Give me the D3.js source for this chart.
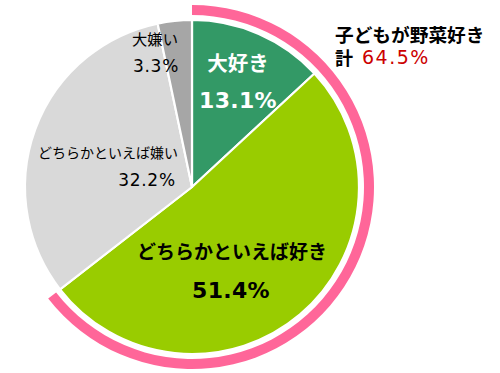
<!DOCTYPE html>
<html><head><meta charset="utf-8">
<script src="https://cdn.jsdelivr.net/npm/d3@7"></script>
<style>
html,body{margin:0;padding:0;background:#fff;}
text{font-family:"Noto Sans CJK JP","Noto Sans",sans-serif;}
text.num, tspan.num{font-family:"DejaVu Sans",sans-serif;}
</style></head>
<body><svg id="c" width="500" height="373"></svg>
<script>
const categories = ["大好き","どちらかといえば好き","どちらかといえば嫌い","大嫌い"];
const values = [13.1, 51.4, 32.2, 3.3];
const colors = ["#339966","#99CC00","#D9D9D9","#A6A6A6"];
const likeTotal = 64.5;
const likeTitle = "子どもが野菜好き";
const likeLabel = "計";

const svg = d3.select("#c");
const cx = 192, cy = 187, r = 167;
const g = svg.append("g").attr("transform",`translate(${cx},${cy})`);

const pie = d3.pie().sort(null).value(d=>d)(values);
const arc = d3.arc().innerRadius(0).outerRadius(r);
g.selectAll("path.s").data(pie).join("path").attr("class","s")
  .attr("d",arc).attr("fill",(d,i)=>colors[i])
  .attr("stroke","#fff").attr("stroke-width",2.2).attr("stroke-linejoin","round");

// pink outer arc for "like" total
const angle = d3.scaleLinear().domain([0,100]).range([0,2*Math.PI]);
g.append("path")
  .attr("d", d3.arc().innerRadius(r+5).outerRadius(r+15).startAngle(0).endAngle(angle(likeTotal))())
  .attr("fill","#FF6699");

// slice labels
const labelCfg = [
  {x:238, y1:62, x2:238, b2:107.5, s1:20.5, s2:22, w:"bold", c:"#fff", ls:0.3},
  {x:232, y1:250, x2:231, b2:298, s1:19, s2:22, w:"bold", c:"#000", ls:0.3},
  {x:108, y1:152, x2:147, b2:185.5, s1:14, s2:17, w:"normal", c:"#000", ls:0.7},
  {x:155, y1:38, x2:156, b2:72, s1:15.3, s2:17, w:"normal", c:"#000", ls:0.7}
];
labelCfg.forEach((L,i)=>{
  svg.append("text").attr("x",L.x).attr("y",L.y1).attr("text-anchor","middle")
    .attr("dominant-baseline","central").attr("font-size",L.s1).attr("font-weight",L.w)
    .attr("fill",L.c).text(categories[i]);
  svg.append("text").attr("class","num").attr("x",L.x2).attr("y",L.b2).attr("text-anchor","middle")
    .attr("font-size",L.s2).attr("font-weight",L.w)
    .attr("fill",L.c).attr("letter-spacing",L.ls).text(values[i].toFixed(1)+"%");
});

// annotation
svg.append("text").attr("x",335).attr("y",33).attr("dominant-baseline","central")
  .attr("font-size",18.7).attr("font-weight","bold").attr("fill","#000").text(likeTitle);
svg.append("text").attr("x",335).attr("y",57).attr("dominant-baseline","central")
  .attr("font-size",18).attr("font-weight","bold").attr("fill","#000").text(likeLabel);
svg.append("text").attr("class","num").attr("x",362).attr("y",63.5)
  .attr("font-size",19).attr("fill","#CC0000").attr("letter-spacing",1.5)
  .text(likeTotal.toFixed(1)+"%");
</script></body></html>
